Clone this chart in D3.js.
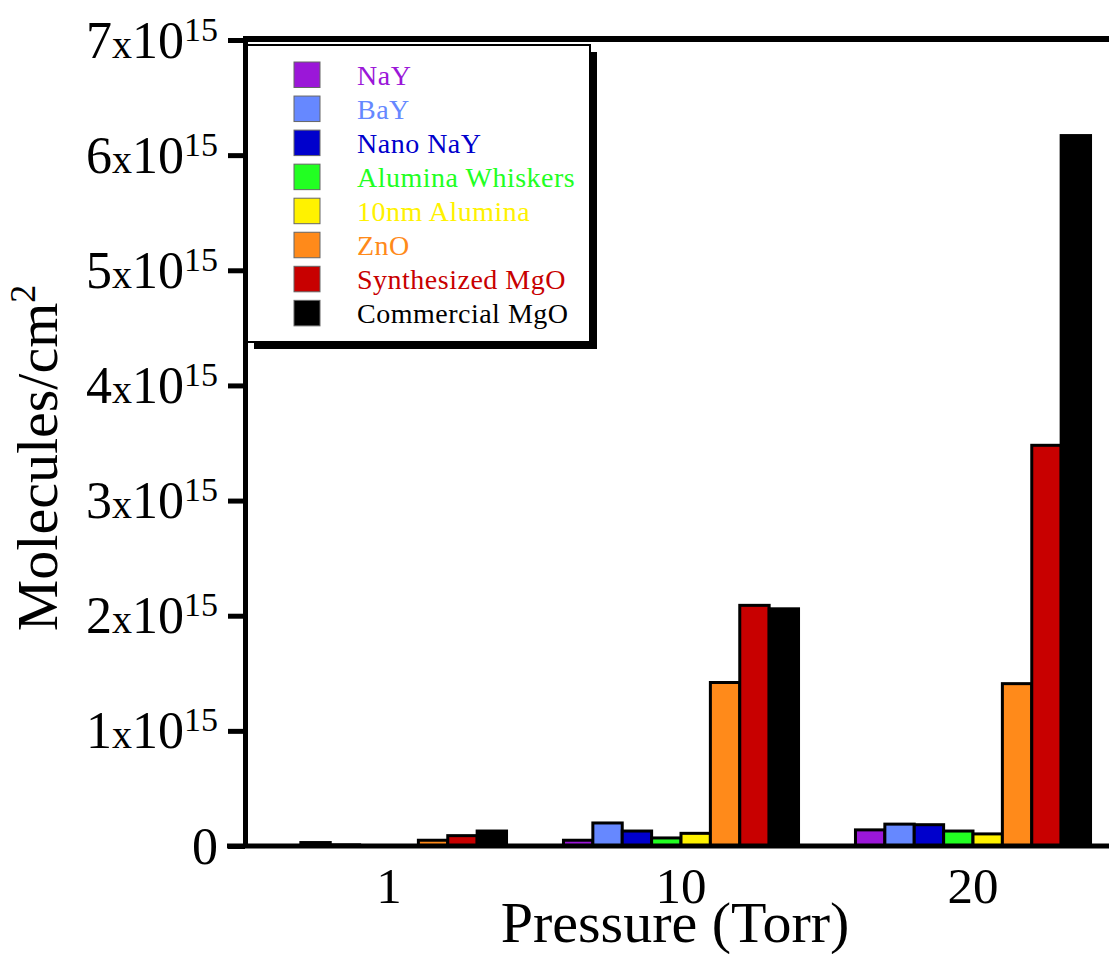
<!DOCTYPE html>
<html>
<head>
<meta charset="utf-8">
<script src="https://cdn.jsdelivr.net/npm/d3@7"></script>
<style>
  html, body { margin: 0; padding: 0; background: #fff; }
  svg { display: block; }
  text { font-family: "Liberation Serif", "Times New Roman", Times, serif; }
</style>
</head>
<body>
<svg id="chart" width="1109" height="954"></svg>
<script>
// ---- data (values in units of 1e15 molecules/cm^2) ----
const pressures = ["1", "10", "20"];
const seriesNames = ["NaY", "BaY", "Nano NaY", "Alumina Whiskers", "10nm Alumina", "ZnO", "Synthesized MgO", "Commercial MgO"];
const seriesColors = ["#9B17D8", "#6688FF", "#0000CC", "#22FF22", "#FFF200", "#FF8A1A", "#C80000", "#000000"];
const NaY = [0.0, 0.05, 0.14];
const BaY = [0.03, 0.20, 0.19];
const NanoNaY = [0.01, 0.13, 0.185];
const AluminaWhiskers = [0.0, 0.07, 0.13];
const Alumina10nm = [0.0, 0.11, 0.105];
const ZnO = [0.05, 1.42, 1.41];
const SynthesizedMgO = [0.09, 2.09, 3.48];
const CommercialMgO = [0.13, 2.06, 6.17];
const yTickValues = [0, 1, 2, 3, 4, 5, 6, 7];
const yTitle = "Molecules/cm";
const xTitle = "Pressure (Torr)";

const seriesValues = [NaY, BaY, NanoNaY, AluminaWhiskers, Alumina10nm, ZnO, SynthesizedMgO, CommercialMgO];

const svg = d3.select("#chart");

const axisX = 245, baseY = 846, topY = 40;

const y = d3.scaleLinear().domain([0, 7]).range([baseY, topY]);
const x0 = d3.scaleBand().domain(pressures).range([243, 1119])
  .paddingInner(0.195).paddingOuter(0.0975);
const x1 = d3.scaleBand().domain(seriesNames).range([0, x0.bandwidth()]);

// bars
const groups = svg.append("g").selectAll("g")
  .data(pressures)
  .join("g")
  .attr("transform", d => `translate(${x0(d)},0)`);

groups.selectAll("rect")
  .data((p, pi) => seriesNames.map((s, si) => ({ s, si, v: seriesValues[si][pi] })))
  .join("rect")
  .attr("x", d => x1(d.s))
  .attr("y", d => y(d.v))
  .attr("width", x1.bandwidth())
  .attr("height", d => baseY - y(d.v))
  .attr("fill", d => seriesColors[d.si])
  .attr("stroke", "#000")
  .attr("stroke-width", 3);

// top frame line
svg.append("line")
  .attr("x1", axisX - 2).attr("x2", 1109)
  .attr("y1", topY - 1).attr("y2", topY - 1)
  .attr("stroke", "#000").attr("stroke-width", 6);

// x axis line
svg.append("line")
  .attr("x1", 227).attr("x2", 1109)
  .attr("y1", baseY).attr("y2", baseY)
  .attr("stroke", "#000").attr("stroke-width", 5);

// y axis
const yAxis = d3.axisLeft(y).tickValues(yTickValues).tickSize(17).tickSizeOuter(0).tickPadding(9);
const gy = svg.append("g").attr("transform", `translate(${axisX},0)`).call(yAxis);
gy.select(".domain").attr("stroke", "#000").attr("stroke-width", 5);
gy.selectAll(".tick line").attr("stroke", "#000").attr("stroke-width", 5);
gy.selectAll(".tick text").each(function (d) {
  const t = d3.select(this);
  t.text(null)
    .attr("fill", "#000")
    .attr("dy", null)
    .attr("y", 17)
    .attr("x", -27)
    .attr("text-anchor", "end")
    .attr("font-family", null)
    .attr("font-size", null)
    .style("font-size", "52px");
  if (d === 0) {
    t.append("tspan").text("0");
  } else {
    t.append("tspan").text(d);
    t.append("tspan").style("font-size", "40px").text("x");
    t.append("tspan").text("10");
    t.append("tspan").attr("dy", -17).style("font-size", "34px").text("15");
  }
});

// x axis labels
const xAxis = d3.axisBottom(x0).tickSize(0).tickPadding(0);
const gx = svg.append("g").attr("transform", `translate(0,${baseY})`).call(xAxis);
gx.select(".domain").remove();
gx.selectAll(".tick text")
  .attr("y", 57).attr("dy", null)
  .attr("fill", "#000")
  .attr("font-family", null).attr("font-size", null)
  .style("font-size", "51px");

// x title
svg.append("text")
  .attr("x", 675).attr("y", 942)
  .attr("text-anchor", "middle")
  .style("font-size", "58px")
  .text(xTitle);

// y title
const yt = svg.append("text")
  .attr("transform", "translate(57,458) rotate(-90)")
  .attr("text-anchor", "middle")
  .style("font-size", "58px");
yt.append("tspan").text(yTitle);
yt.append("tspan").attr("dy", -22).style("font-size", "36px").text("2");

// legend
const lg = svg.append("g");
lg.append("rect").attr("x", 254).attr("y", 52).attr("width", 343).attr("height", 297).attr("fill", "#000");
lg.append("rect").attr("x", 247).attr("y", 45).attr("width", 343).attr("height", 297)
  .attr("fill", "#fff").attr("stroke", "#000").attr("stroke-width", 2);
const items = lg.selectAll("g.item").data(seriesNames).join("g")
  .attr("class", "item")
  .attr("transform", (d, i) => `translate(294,${62 + i * 34.05})`);
items.append("rect").attr("width", 26).attr("height", 25.5)
  .attr("fill", (d, i) => seriesColors[i]).attr("stroke", "#666").attr("stroke-width", 1);
items.append("text").attr("x", 63).attr("y", 23)
  .style("font-size", "28px")
  .style("letter-spacing", "0.5px")
  .attr("fill", (d, i) => seriesColors[i])
  .text(d => d);
</script>
</body>
</html>
